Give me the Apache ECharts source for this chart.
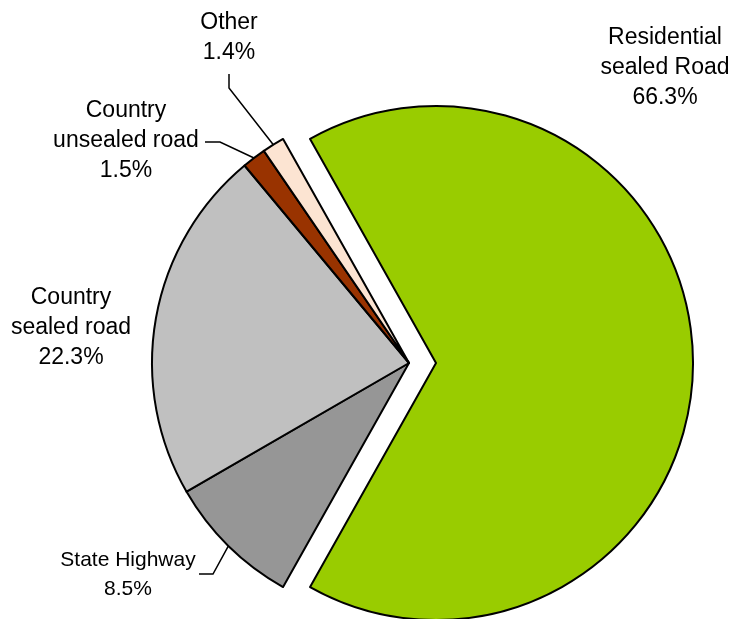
<!DOCTYPE html>
<html>
<head>
<meta charset="utf-8">
<script src="https://cdn.jsdelivr.net/npm/echarts@6/dist/echarts.min.js"></script>
<style>
html,body{margin:0;padding:0;background:#fff;}
#chart{width:736px;height:619px;}
</style>
</head>
<body>
<div id="chart"></div>
<script>
// Data
var categories = ['Residential\nsealed Road', 'State Highway', 'Country\nsealed road', 'Country\nunsealed road', 'Other'];
var shares = [66.3, 8.5, 22.3, 1.5, 1.4];
var colors = ['#99CC00', '#969696', '#C0C0C0', '#993300', '#FCE4D2'];
var explodedIndex = 0;

// Label layout (block centre) and leader-line elbows
var labelPos = [
  {x: 665, y: 68, fs: 23, lh: 30},
  {x: 128, y: 575, fs: 21, lh: 29},
  {x: 71, y: 328, fs: 23, lh: 30},
  {x: 126, y: 141, fs: 23, lh: 30},
  {x: 229, y: 38, fs: 23, lh: 30}
];
var leaderStart = [null, [199, 574], null, [205, 142], [229, 74]];
var leaderElbow = [null, [213, 574], null, [220, 142], [229, 88]];

var cx = 409, cy = 363, R = 257, explode = 27;
var total = shares.reduce(function(a, b){ return a + b; }, 0);
var startAngle = shares[0] / total * 180;

// direction of the exploded slice (mid angle)
var accBefore = 0;
for (var k = 0; k < explodedIndex; k++) accBefore += shares[k];
var midExp = (startAngle - (accBefore + shares[explodedIndex] / 2) / total * 360) * Math.PI / 180;
var ex = cx + explode * Math.cos(midExp), ey = cy - explode * Math.sin(midExp);

var border = {borderColor: '#000000', borderWidth: 2};

// base series: all slices except the exploded one (which is kept as an invisible placeholder, but carries its label)
var baseData = categories.map(function(name, i){
  var hidden = (i === explodedIndex);
  return {
    name: name,
    value: shares[i],
    itemStyle: hidden ? {color: 'rgba(0,0,0,0)', borderWidth: 0} : {color: colors[i]},
    label: {fontSize: labelPos[i].fs, lineHeight: labelPos[i].lh},
    labelLine: {show: !!leaderStart[i]}
  };
});
// exploded series: only the exploded slice visible
var explodedData = categories.map(function(name, i){
  var shown = (i === explodedIndex);
  return {
    name: name,
    value: shares[i],
    itemStyle: shown ? {color: colors[i]} : {color: 'rgba(0,0,0,0)', borderWidth: 0}
  };
});

var common = {
  type: 'pie',
  radius: R,
  startAngle: startAngle,
  clockwise: true,
  selectedMode: false,
  avoidLabelOverlap: false,
  emphasis: {disabled: true}
};

var chart = echarts.init(document.getElementById('chart'), null, {renderer: 'canvas'});
chart.setOption({
  backgroundColor: '#ffffff',
  animation: false,
  series: [
    Object.assign({}, common, {
      name: 'base',
      center: [cx, cy],
      itemStyle: border,
      label: {
        show: true,
        position: 'outside',
        formatter: function(p){ return p.name + '\n' + p.value.toFixed(1) + '%'; },
        color: '#000000',
        fontFamily: '"Liberation Sans", Arial, sans-serif',
        fontSize: 23,
        lineHeight: 30,
        align: 'center'
      },
      labelLine: {show: true, lineStyle: {color: '#000000', width: 1.5}},
      labelLayout: function(params){
        var i = params.dataIndex;
        var res = {x: labelPos[i].x, y: labelPos[i].y, align: 'center', verticalAlign: 'middle'};
        if (leaderStart[i]) {
          var end;
          if (params.labelLinePoints && params.labelLinePoints[0]) {
            end = params.labelLinePoints[0];
          } else {
            var acc = 0;
            for (var k = 0; k < i; k++) acc += shares[k];
            var mid = (startAngle - (acc + shares[i] / 2) / total * 360) * Math.PI / 180;
            end = [cx + R * Math.cos(mid), cy - R * Math.sin(mid)];
          }
          res.labelLinePoints = [leaderStart[i], leaderElbow[i], end];
        }
        return res;
      },
      data: baseData
    }),
    Object.assign({}, common, {
      name: 'exploded',
      center: [ex, ey],
      silent: true,
      itemStyle: border,
      label: {show: false},
      labelLine: {show: false},
      data: explodedData
    })
  ]
});
</script>
</body>
</html>
